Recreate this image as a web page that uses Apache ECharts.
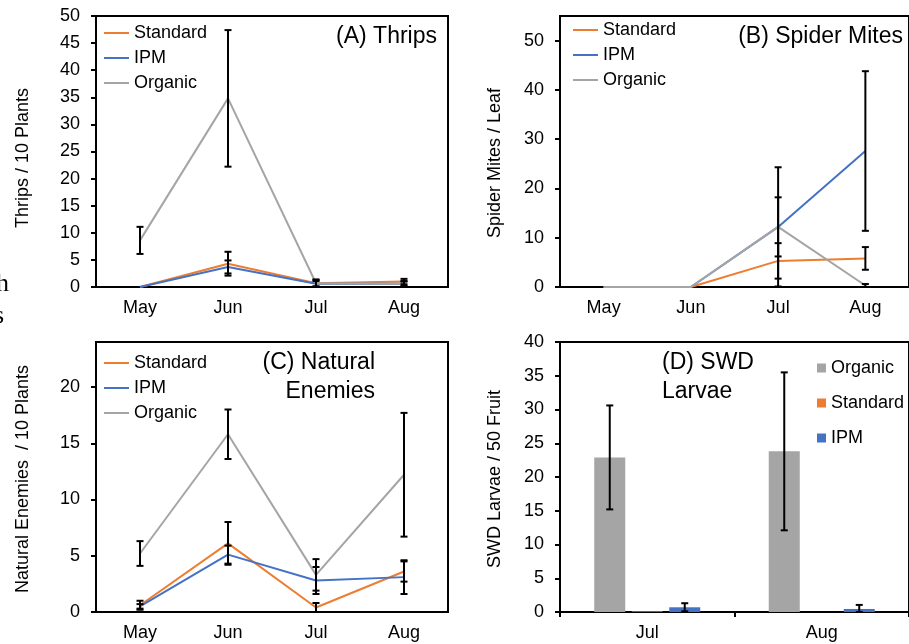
<!DOCTYPE html>
<html>
<head>
<meta charset="utf-8">
<script src="https://cdn.jsdelivr.net/npm/echarts@6/dist/echarts.min.js"></script>
<style>
html,body{margin:0;padding:0;background:#fff;}
#chart{width:909px;height:644px;}
</style>
</head>
<body>
<div id="chart"></div>
<script>
// ---------- DATA ----------
const months = ['May', 'Jun', 'Jul', 'Aug'];
const swdMonths = ['Jul', 'Aug'];

const thripsTicks = [0, 5, 10, 15, 20, 25, 30, 35, 40, 45, 50];
const mitesTicks = [0, 10, 20, 30, 40, 50];
const enemiesTicks = [0, 5, 10, 15, 20];
const swdTicks = [0, 5, 10, 15, 20, 25, 30, 35, 40];

const thripsStandard = [0, 4.3, 0.7, 1.0];
const thripsStandardErr = [0, 2.2, 0.6, 0.5];
const thripsIPM = [0, 3.7, 0.6, 0.6];
const thripsIPMErr = [0, 1.2, 0.5, 0.4];
const thripsOrganic = [8.6, 34.8, 0.7, 0.6];
const thripsOrganicErr = [2.5, 12.6, 0.7, 0.5];

const mitesStandard = [0, 0, 5.3, 5.8];
const mitesStandardErr = [0, 0, 3.6, 2.3];
const mitesIPM = [0, 0, 12.2, 27.6];
const mitesIPMErr = [0, 0, 6.0, 16.2];
const mitesOrganic = [0, 0, 12.2, 0.3];
const mitesOrganicErr = [0, 0, 12.1, 0.3];

const enemiesStandard = [0.6, 6.1, 0.4, 3.6];
const enemiesStandardErr = [0.4, 1.9, 0.4, 0.9];
const enemiesIPM = [0.5, 5.1, 2.8, 3.1];
const enemiesIPMErr = [0.2, 0.8, 1.2, 1.5];
const enemiesOrganic = [5.2, 15.8, 3.3, 12.2];
const enemiesOrganicErr = [1.1, 2.2, 1.4, 5.5];

const swdOrganic = [22.9, 23.8];
const swdOrganicErr = [7.7, 11.7];
const swdStandard = [0.1, 0];
const swdStandardErr = [0, 0];
const swdIPM = [0.7, 0.45];
const swdIPMErr = [0.6, 0.6];

// ---------- STYLE ----------
const FONT = "'Liberation Sans', Arial, sans-serif";
const C_STD = '#ED7D31', C_IPM = '#4472C4', C_ORG = '#A5A5A5';
const BAR_W = 31, BAR_GAP_PX = 6.5;

function errData(vals, errs) {
  const out = [];
  vals.forEach((v, i) => { if (errs[i] > 0) out.push([i, Math.max(0, v - errs[i]), v + errs[i]]); });
  return out;
}
function errRender(offsetPx) {
  return function (params, api) {
    const x = api.value(0);
    const p1 = api.coord([x, api.value(1)]);
    const p2 = api.coord([x, api.value(2)]);
    const cx = p1[0] + offsetPx, w = 3.5;
    const st = { stroke: '#000', lineWidth: 2 };
    return { type: 'group', children: [
      { type: 'line', shape: { x1: cx, y1: p1[1], x2: cx, y2: p2[1] }, style: st },
      { type: 'line', shape: { x1: cx - w, y1: p1[1], x2: cx + w, y2: p1[1] }, style: st },
      { type: 'line', shape: { x1: cx - w, y1: p2[1], x2: cx + w, y2: p2[1] }, style: st }
    ]};
  };
}
function errSeries(idx, vals, errs, offset) {
  return { type: 'custom', xAxisIndex: idx, yAxisIndex: idx, renderItem: errRender(offset || 0),
    data: errData(vals, errs), z: 5, silent: true, clip: false };
}
function lineSeries(idx, name, data, color) {
  return { type: 'line', name: name, xAxisIndex: idx, yAxisIndex: idx, data: data, symbol: 'none', clip: false,
    lineStyle: { color: color, width: 2 }, itemStyle: { color: color }, z: 3, animation: false };
}
function yAxis(idx, max, ticks) {
  return { type: 'value', gridIndex: idx, min: 0, max: max,
    axisLine: { show: true, lineStyle: { color: '#000', width: 2 } },
    axisTick: { show: true, length: 5, lineStyle: { color: '#000', width: 2 }, customValues: ticks },
    axisLabel: { fontSize: 18, color: '#000', fontFamily: FONT, margin: 16, customValues: ticks },
    splitLine: { show: false } };
}
function xAxis(idx, cats, showTick) {
  return { type: 'category', gridIndex: idx, data: cats, boundaryGap: true,
    axisLine: { show: true, lineStyle: { color: '#000', width: 2 } },
    axisTick: { show: !!showTick, length: 5, lineStyle: { color: '#000', width: 2 } },
    axisLabel: { fontSize: 18, color: '#000', fontFamily: FONT, margin: 12 },
    splitLine: { show: false }, z: 1 };
}
const gridBase = { show: true, borderColor: '#000', borderWidth: 2, backgroundColor: 'transparent', containLabel: false };
const legendText = { fontSize: 18, color: '#000', fontFamily: FONT };
function lineLegend(left, top) {
  return { orient: 'vertical', left: left, top: top, icon: 'rect', itemWidth: 25, itemHeight: 2, itemGap: 7, padding: 0,
    data: ['Standard', 'IPM', 'Organic'], textStyle: legendText, selectedMode: false };
}
const swdNames = { swdOrganic: 'Organic', swdStandard: 'Standard', swdIPM: 'IPM' };

function txt(x, y, s, size, align, rot) {
  return { type: 'text', x: x, y: y, rotation: rot || 0, silent: true,
    style: { text: s, font: size + 'px ' + FONT, fill: '#000', align: align || 'center', verticalAlign: 'middle' } };
}

const option = {
  animation: false,
  backgroundColor: '#fff',
  grid: [
    Object.assign({ left: 96, top: 16, width: 352, height: 271 }, gridBase),
    Object.assign({ left: 560, top: 16, width: 351, height: 271 }, gridBase),
    Object.assign({ left: 96, top: 342, width: 352, height: 270 }, gridBase),
    Object.assign({ left: 560, top: 342, width: 350, height: 270 }, gridBase)
  ],
  xAxis: [ xAxis(0, months), xAxis(1, months), xAxis(2, months), xAxis(3, swdMonths, true) ],
  yAxis: [ yAxis(0, 50, thripsTicks), yAxis(1, 55, mitesTicks), yAxis(2, 24, enemiesTicks), yAxis(3, 40, swdTicks) ],
  legend: [
    lineLegend(104, 24),
    lineLegend(573, 21),
    lineLegend(104, 354),
    { orient: 'vertical', left: 817, top: 359, itemWidth: 9, itemHeight: 9, itemGap: 17, padding: 0, icon: 'rect',
      data: ['swdOrganic', 'swdStandard', 'swdIPM'], formatter: n => swdNames[n], textStyle: legendText, selectedMode: false }
  ],
  graphic: [
    txt(437, 37, '(A) Thrips', 23, 'right'),
    txt(903, 37, '(B) Spider Mites', 23, 'right'),
    txt(375, 363, '(C) Natural', 23, 'right'),
    txt(375, 392, 'Enemies', 23, 'right'),
    txt(662, 363, '(D) SWD', 23, 'left'),
    txt(662, 392, 'Larvae', 23, 'left'),
    txt(23, 158, 'Thrips / 10 Plants', 18, 'center', Math.PI / 2),
    txt(495, 163, 'Spider Mites / Leaf', 18, 'center', Math.PI / 2),
    txt(23, 479, 'Natural Enemies  / 10 Plants', 18, 'center', Math.PI / 2),
    txt(495, 479, 'SWD Larvae / 50 Fruit', 18, 'center', Math.PI / 2),
    { type: 'text', x: -4, y: 284, silent: true, style: { text: 'h', font: "26px 'Liberation Serif', serif", fill: '#000', verticalAlign: 'middle' } },
    { type: 'text', x: -6, y: 316, silent: true, style: { text: 's', font: "26px 'Liberation Serif', serif", fill: '#000', verticalAlign: 'middle' } }
  ],
  series: [
    lineSeries(0, 'Standard', thripsStandard, C_STD),
    lineSeries(0, 'IPM', thripsIPM, C_IPM),
    lineSeries(0, 'Organic', thripsOrganic, C_ORG),
    errSeries(0, thripsStandard, thripsStandardErr),
    errSeries(0, thripsIPM, thripsIPMErr),
    errSeries(0, thripsOrganic, thripsOrganicErr),

    lineSeries(1, 'Standard', mitesStandard, C_STD),
    lineSeries(1, 'IPM', mitesIPM, C_IPM),
    lineSeries(1, 'Organic', mitesOrganic, C_ORG),
    errSeries(1, mitesStandard, mitesStandardErr),
    errSeries(1, mitesIPM, mitesIPMErr),
    errSeries(1, mitesOrganic, mitesOrganicErr),

    lineSeries(2, 'Standard', enemiesStandard, C_STD),
    lineSeries(2, 'IPM', enemiesIPM, C_IPM),
    lineSeries(2, 'Organic', enemiesOrganic, C_ORG),
    errSeries(2, enemiesStandard, enemiesStandardErr),
    errSeries(2, enemiesIPM, enemiesIPMErr),
    errSeries(2, enemiesOrganic, enemiesOrganicErr),

    { type: 'bar', name: 'swdOrganic', xAxisIndex: 3, yAxisIndex: 3, data: swdOrganic, barWidth: BAR_W, barGap: (BAR_GAP_PX / BAR_W * 100) + '%', itemStyle: { color: C_ORG } },
    { type: 'bar', name: 'swdStandard', xAxisIndex: 3, yAxisIndex: 3, data: swdStandard, barWidth: BAR_W, itemStyle: { color: C_STD } },
    { type: 'bar', name: 'swdIPM', xAxisIndex: 3, yAxisIndex: 3, data: swdIPM, barWidth: BAR_W, itemStyle: { color: C_IPM } },
    errSeries(3, swdOrganic, swdOrganicErr, -(BAR_W + BAR_GAP_PX)),
    errSeries(3, swdStandard, swdStandardErr, 0),
    errSeries(3, swdIPM, swdIPMErr, (BAR_W + BAR_GAP_PX))
  ]
};
const chart = echarts.init(document.getElementById('chart'), null, { renderer: 'canvas' });
chart.setOption(option);
</script>
</body>
</html>
